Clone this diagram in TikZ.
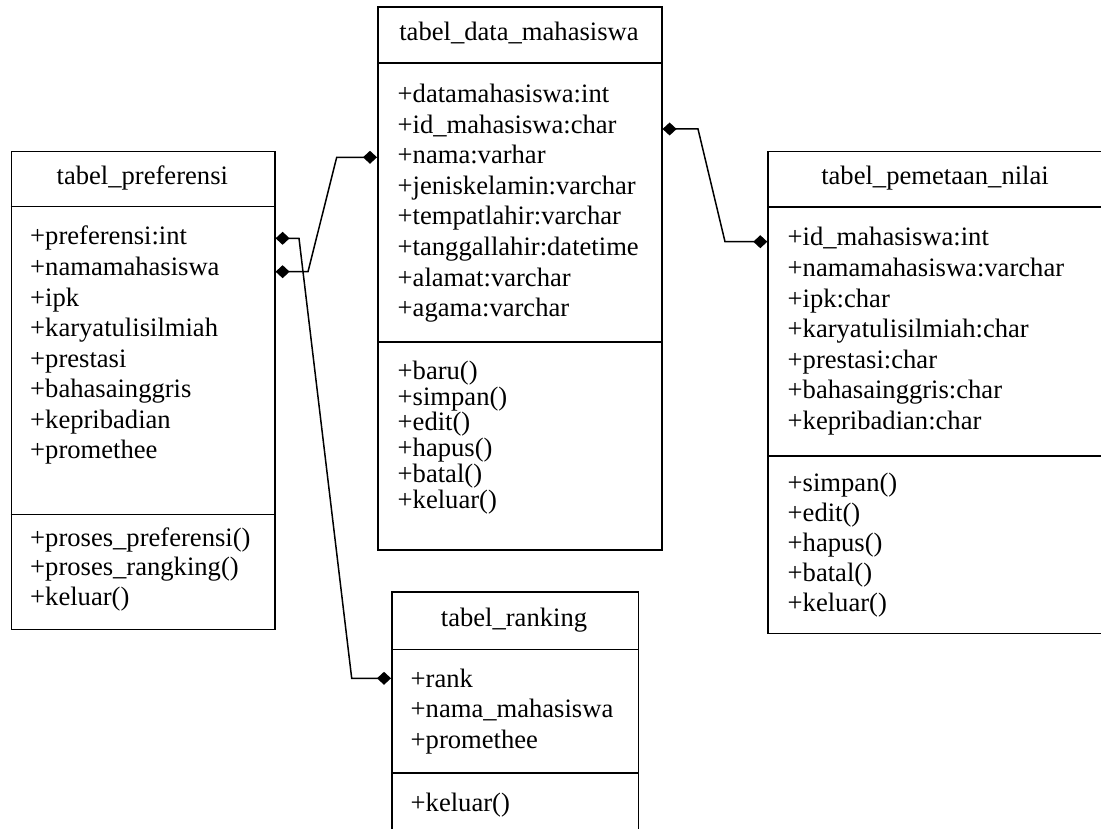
\documentclass[tikz,border=0pt]{standalone}
\usepackage{fontspec}
\setmainfont{Liberation Serif}
\usetikzlibrary{arrows.meta}
\tikzset{
  box/.style={draw, line width=1.6pt, anchor=north west, inner sep=0pt},
  sep/.style={line width=1.6pt},
  txt/.style={anchor=base west, inner sep=0pt, font=\fontsize{26.6pt}{30pt}\selectfont},
  ttl/.style={anchor=base, inner sep=0pt, font=\fontsize{26.6pt}{30pt}\selectfont},
  dia/.tip={Diamond[length=14pt,width=13pt]},
  conn/.style={line width=1.5pt, arrows={dia-dia}}
}
\begin{document}
\begin{tikzpicture}[x=1pt,y=-1pt]
\useasboundingbox (0,0) rectangle (1101,829);
\fill[white] (0,0) rectangle (1101,829);

% tabel_data_mahasiswa
\node[box, minimum width=284pt, minimum height=543pt] (data) at (377,6) {};
\draw[sep] (data.west |- 0,63) -- (data.east |- 0,63);
\draw[sep] (data.west |- 0,342) -- (data.east |- 0,342);
\node[ttl] (datat) at (519,40.7) {tabel\_data\_mahasiswa};
\foreach \t [count=\i from 0] in {+datamahasiswa:int,+id\_mahasiswa:char,+nama:varhar,+jeniskelamin:varchar,+tempatlahir:varchar,+tanggallahir:datetime,+alamat:varchar,+agama:varchar}
  \node[txt] (da\i) at (397.5,102.7+30.57*\i) {\t};
\foreach \t [count=\i from 0] in {+baru(),+simpan(),+edit(),+hapus(),+batal(),+keluar()}
  \node[txt] (dm\i) at (397.5,379.3+25.8*\i) {\t};

% tabel_preferensi
\node[box, minimum width=263.3pt, minimum height=477.8pt] (pref) at (10.7,150.7) {};
\draw[sep] (pref.west |- 0,206.7) -- (pref.east |- 0,206.7);
\draw[sep] (pref.west |- 0,514.5) -- (pref.east |- 0,514.5);
\node[ttl] (preft) at (142.3,185) {tabel\_preferensi};
\foreach \t [count=\i from 0] in {+preferensi:int,+namamahasiswa,+ipk,+karyatulisilmiah,+prestasi,+bahasainggris,+kepribadian,+promethee}
  \node[txt] (pa\i) at (30,245+30.57*\i) {\t};
\foreach \t [count=\i from 0] in {+proses\_preferensi(),+proses\_rangking(),+keluar()}
  \node[txt] (pm\i) at (30,546.7+29.2*\i) {\t};

% tabel_pemetaan_nilai
\node[box, minimum width=336pt, minimum height=482pt] (pem) at (767.3,150.7) {};
\draw[sep] (pem.west |- 0,207.3) -- (pem.east |- 0,207.3);
\draw[sep] (pem.west |- 0,455.7) -- (pem.east |- 0,455.7);
\node[ttl] (pemt) at (935,185) {tabel\_pemetaan\_nilai};
\foreach \t [count=\i from 0] in {+id\_mahasiswa:int,+namamahasiswa:varchar,+ipk:char,+karyatulisilmiah:char,+prestasi:char,+bahasainggris:char,+kepribadian:char}
  \node[txt] (ea\i) at (787.5,246+30.5*\i) {\t};
\foreach \t [count=\i from 0] in {+simpan(),+edit(),+hapus(),+batal(),+keluar()}
  \node[txt] (em\i) at (787.5,491.7+30*\i) {\t};

% tabel_ranking
\node[box, minimum width=246.5pt, minimum height=250pt] (rank) at (391,591) {};
\draw[sep] (rank.west |- 0,649.3) -- (rank.east |- 0,649.3);
\draw[sep] (rank.west |- 0,772.7) -- (rank.east |- 0,772.7);
\node[ttl] (rankt) at (514,626.7) {tabel\_ranking};
\foreach \t [count=\i from 0] in {+rank,+nama\_mahasiswa,+promethee}
  \node[txt] (ra\i) at (410.5,687.3+30.4*\i) {\t};
\node[txt] (rm0) at (410.5,811.7) {+keluar()};

% connectors
\draw[conn] (pref.east |- 0,271.7) -- (308,271.7) -- (336.7,157.3) -- (data.west |- 0,157.3);
\draw[conn] (pref.east |- 0,238.3) -- (299,238.3) -- (351.7,678.3) -- (rank.west |- 0,678.3);
\draw[conn] (data.east |- 0,129) -- (698,129) -- (725,241.7) -- (pem.west |- 0,241.7);
\end{tikzpicture}
\end{document}
